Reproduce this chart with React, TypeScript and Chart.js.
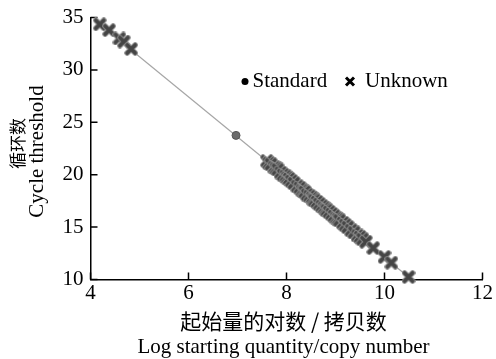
import React, { useEffect, useRef } from "react";
import { Chart, registerables } from "chart.js";

Chart.register(...registerables);

const xTicks = [4, 6, 8, 10, 12];
const yTicks = [10, 15, 20, 25, 30, 35];

const standardX = [6.97];
const standardY = [23.75];

const unknownX = [4.19, 4.38, 4.59, 4.68, 4.83, 7.6, 7.64, 7.68, 7.75, 7.79, 7.82, 7.88, 7.93, 7.98, 8.02, 8.05, 8.1, 8.15, 8.22, 8.27, 8.32, 8.35, 8.37, 8.42, 8.47, 8.52, 8.55, 8.57, 8.62, 8.67, 8.72, 8.77, 8.8, 8.82, 8.87, 8.92, 8.97, 9.02, 9.05, 9.08, 9.15, 9.2, 9.25, 9.32, 9.38, 9.45, 9.5, 9.55, 9.62, 9.77, 10.0, 10.14, 10.49];
const unknownY = [34.35, 33.8, 33.0, 32.7, 32.0, 21.3, 21.1, 21.0, 20.7, 20.6, 20.5, 20.2, 20.0, 19.85, 19.7, 19.6, 19.4, 19.2, 18.9, 18.75, 18.5, 18.4, 18.35, 18.1, 17.95, 17.8, 17.65, 17.55, 17.4, 17.2, 17.0, 16.85, 16.7, 16.6, 16.45, 16.25, 16.05, 15.85, 15.75, 15.65, 15.4, 15.2, 15.0, 14.7, 14.5, 14.2, 14.05, 13.85, 13.6, 13.0, 12.15, 11.6, 10.24];

const fitX = [4.19, 10.49];
const fitY = [34.35, 10.24];

const legendLabels = ["Standard", "Unknown"];
const xTitleZh = "起始量的对数 / 拷贝数";
const xTitleEn = "Log starting quantity/copy number";
const yTitleZh = "循环数";
const yTitleEn = "Cycle threshold";

const SERIF = "'Liberation Serif', 'Times New Roman', serif";
const CJK = "'Noto Sans CJK SC', sans-serif";

function makeCross(): HTMLCanvasElement {
  const c = document.createElement("canvas");
  c.width = 14;
  c.height = 14;
  const g = c.getContext("2d")!;
  g.lineCap = "round";
  const draw = (w: number, col: string) => {
    g.strokeStyle = col;
    g.lineWidth = w;
    g.beginPath();
    g.moveTo(3, 3);
    g.lineTo(11, 11);
    g.moveTo(11, 3);
    g.lineTo(3, 11);
    g.stroke();
  };
  draw(5.5, "#8c8c8c");
  draw(3.6, "#454545");
  return c;
}

const decorPlugin = {
  id: "decor",
  beforeDatasetsDraw(chart: any) {
    const ctx = chart.ctx;
    const xs = chart.scales.x;
    const ys = chart.scales.y;
    const { left, bottom } = chart.chartArea;
    ctx.save();
    ctx.strokeStyle = "#000";
    ctx.lineWidth = 1.5;
    ctx.beginPath();
    xs.ticks.forEach((t: any) => {
      const px = xs.getPixelForValue(t.value);
      ctx.moveTo(px, bottom);
      ctx.lineTo(px, bottom - 7);
    });
    ys.ticks.forEach((t: any) => {
      const py = ys.getPixelForValue(t.value);
      ctx.moveTo(left, py);
      ctx.lineTo(left + 7, py);
    });
    ctx.stroke();
    ctx.restore();
  },
  afterDraw(chart: any) {
    const ctx = chart.ctx;
    const { left, right, top, bottom } = chart.chartArea;
    const cx = (left + right) / 2 - 3;
    const cy = (top + bottom) / 2;
    ctx.save();
    ctx.fillStyle = "#000";
    // x titles
    ctx.textAlign = "center";
    ctx.textBaseline = "middle";
    ctx.font = `21px ${CJK}`;
    ctx.fillText(xTitleZh, cx, bottom + 42);
    ctx.textBaseline = "alphabetic";
    ctx.font = `21px ${SERIF}`;
    ctx.fillText(xTitleEn, cx, bottom + 73);
    // y titles
    ctx.save();
    ctx.translate(18, cy - 5);
    ctx.rotate(-Math.PI / 2);
    ctx.textBaseline = "middle";
    ctx.font = `17px ${CJK}`;
    ctx.fillText(yTitleZh, 0, 0);
    ctx.restore();
    ctx.save();
    ctx.translate(43, cy + 3);
    ctx.rotate(-Math.PI / 2);
    ctx.textBaseline = "alphabetic";
    ctx.font = `21px ${SERIF}`;
    ctx.fillText(yTitleEn, 0, 0);
    ctx.restore();
    // legend
    const ly = top + 64;
    ctx.beginPath();
    ctx.arc(left + 154.5, ly, 3.5, 0, Math.PI * 2);
    ctx.fill();
    ctx.textAlign = "left";
    ctx.textBaseline = "middle";
    ctx.font = `21px ${SERIF}`;
    ctx.fillText(legendLabels[0], left + 162, ly);
    ctx.strokeStyle = "#000";
    ctx.lineWidth = 3;
    ctx.beginPath();
    const mx = left + 259.5;
    ctx.moveTo(mx - 4, ly - 4);
    ctx.lineTo(mx + 4, ly + 4);
    ctx.moveTo(mx + 4, ly - 4);
    ctx.lineTo(mx - 4, ly + 4);
    ctx.stroke();
    ctx.fillText(legendLabels[1], left + 274.5, ly);
    ctx.restore();
  },
};

export default function App() {
  const ref = useRef<HTMLCanvasElement>(null);
  useEffect(() => {
    document.body.style.margin = "0";
    const cross = makeCross();
    const chart = new Chart(ref.current!, {
      type: "scatter",
      data: {
        datasets: [
          {
            label: legendLabels[1],
            data: unknownX.map((x, i) => ({ x, y: unknownY[i] })),
            pointStyle: cross as any,
            pointRadius: 7,
            order: 0,
            clip: false as any,
          },
          {
            label: legendLabels[0],
            data: standardX.map((x, i) => ({ x, y: standardY[i] })),
            pointStyle: "circle",
            pointRadius: 4,
            backgroundColor: "#6b6b6b",
            borderColor: "#555",
            borderWidth: 1,
            order: 1,
            clip: false as any,
          },
          {
            label: "fit",
            data: fitX.map((x, i) => ({ x, y: fitY[i] })),
            showLine: true,
            pointRadius: 0,
            borderColor: "#a6a6a6",
            borderWidth: 1.2,
            order: 2,
            clip: false as any,
          },
        ],
      },
      options: {
        animation: false,
        responsive: false,
        devicePixelRatio: 1,
        layout: { padding: { top: 11.5, right: 11, left: 0, bottom: 0 } },
        plugins: { legend: { display: false }, tooltip: { enabled: false } },
        scales: {
          x: {
            type: "linear",
            min: 4,
            max: 12,
            afterBuildTicks: (s: any) => {
              s.ticks = xTicks.map((v) => ({ value: v }));
            },
            afterFit: (s: any) => {
              s.height = 79.5;
            },
            grid: { display: false, drawTicks: false },
            border: { display: true, color: "#000", width: 1.5 },
            ticks: {
              color: "#000",
              padding: 3,
              maxRotation: 0,
              font: { family: SERIF, size: 21, lineHeight: 1 },
            },
          },
          y: {
            type: "linear",
            min: 10,
            max: 35,
            afterBuildTicks: (s: any) => {
              s.ticks = yTicks.map((v) => ({ value: v }));
            },
            afterFit: (s: any) => {
              s.width = 90.5;
            },
            grid: { display: false, drawTicks: false },
            border: { display: true, color: "#000", width: 1.5 },
            ticks: {
              color: "#000",
              padding: 7,
              font: { family: SERIF, size: 21, lineHeight: 1 },
            },
          },
        },
      },
      plugins: [decorPlugin],
    });
    return () => chart.destroy();
  }, []);
  return (
    <div style={{ width: 496, height: 359 }}>
      <canvas ref={ref} width={496} height={359} style={{ display: "block" }} />
    </div>
  );
}
